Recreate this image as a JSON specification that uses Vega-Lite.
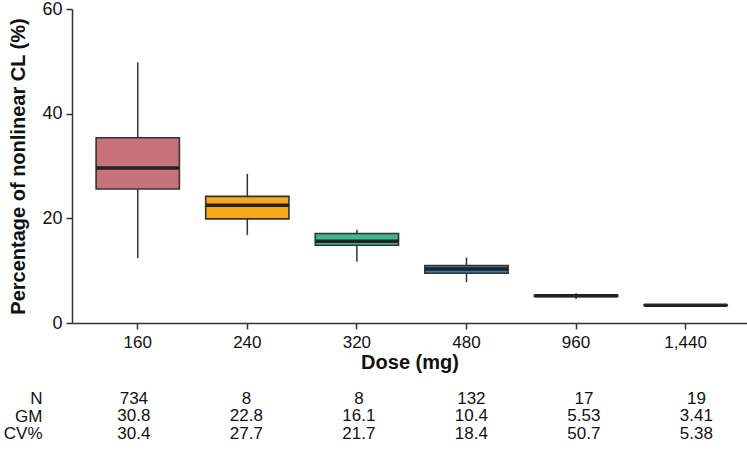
{
  "$schema": "https://vega.github.io/schema/vega-lite/v6.json",
  "padding": {"left": 3, "top": 0, "right": 0, "bottom": 0},
  "background": "white",
  "config": {
    "font": "Liberation Sans",
    "view": {"stroke": null},
    "axis": {"labelColor": "#111", "titleColor": "#111", "domainColor": "#333", "tickColor": "#333", "domainWidth": 1.5, "tickWidth": 1.5, "grid": false}
  },
  "bounds": "flush",
  "spacing": 67,
  "datasets": {
    "box": [
      {"dose": "160", "lo": 12.4, "q1": 25.6, "med": 29.6, "q3": 35.4, "hi": 49.8},
      {"dose": "240", "lo": 16.8, "q1": 19.9, "med": 22.5, "q3": 24.2, "hi": 28.5},
      {"dose": "320", "lo": 11.7, "q1": 14.85, "med": 15.6, "q3": 17.1, "hi": 17.8},
      {"dose": "480", "lo": 7.8, "q1": 9.5, "med": 10.3, "q3": 11.0, "hi": 12.5},
      {"dose": "960", "lo": 4.6, "q1": 5.05, "med": 5.2, "q3": 5.35, "hi": 5.7},
      {"dose": "1,440", "lo": 3.25, "q1": 3.35, "med": 3.4, "q3": 3.45, "hi": 3.55}
    ],
    "table": [
      {"dose": "160", "row": "N", "val": "734"},
      {"dose": "240", "row": "N", "val": "8"},
      {"dose": "320", "row": "N", "val": "8"},
      {"dose": "480", "row": "N", "val": "132"},
      {"dose": "960", "row": "N", "val": "17"},
      {"dose": "1,440", "row": "N", "val": "19"},
      {"dose": "160", "row": "GM", "val": "30.8"},
      {"dose": "240", "row": "GM", "val": "22.8"},
      {"dose": "320", "row": "GM", "val": "16.1"},
      {"dose": "480", "row": "GM", "val": "10.4"},
      {"dose": "960", "row": "GM", "val": "5.53"},
      {"dose": "1,440", "row": "GM", "val": "3.41"},
      {"dose": "160", "row": "CV%", "val": "30.4"},
      {"dose": "240", "row": "CV%", "val": "27.7"},
      {"dose": "320", "row": "CV%", "val": "21.7"},
      {"dose": "480", "row": "CV%", "val": "18.4"},
      {"dose": "960", "row": "CV%", "val": "50.7"},
      {"dose": "1,440", "row": "CV%", "val": "5.38"}
    ]
  },
  "vconcat": [
    {
      "width": 675,
      "height": 314,
      "data": {"name": "box"},
      "encoding": {
        "x": {
          "field": "dose", "type": "nominal",
          "sort": ["160", "240", "320", "480", "960", "1,440"],
          "scale": {"paddingInner": 0.24, "paddingOuter": 0.2, "align": 0.55},
          "axis": {"title": "Dose (mg)", "labelAngle": 0, "labelFontSize": 17, "titleFontSize": 20, "titleFontWeight": "bold", "tickSize": 6, "labelPadding": 5, "titlePadding": 2}
        }
      },
      "layer": [
        {
          "mark": {"type": "rule", "color": "#333", "strokeWidth": 1.5},
          "encoding": {
            "y": {"field": "lo", "type": "quantitative", "scale": {"domain": [0, 60]},
              "axis": {"title": "Percentage of nonlinear CL (%)", "values": [0, 20, 40, 60], "labelFontSize": 18, "titleFontSize": 20, "titleFontWeight": "bold", "tickSize": 6, "labelPadding": 4, "titlePadding": 13}},
            "y2": {"field": "hi"}
          }
        },
        {
          "mark": {"type": "bar", "stroke": "#333", "strokeWidth": 1.6},
          "encoding": {
            "y": {"field": "q1", "type": "quantitative"},
            "y2": {"field": "q3"},
            "color": {
              "field": "dose", "type": "nominal", "legend": null,
              "scale": {"domain": ["160", "240", "320", "480", "960", "1,440"], "range": ["#C8737B", "#F8A71C", "#3CB88C", "#3A7EA6", "#6C4A8E", "#B04A7A"]}
            }
          }
        },
        {
          "mark": {"type": "tick", "color": "#222", "thickness": 3.5, "size": 83, "opacity": 1},
          "encoding": {"y": {"field": "med", "type": "quantitative"}}
        }
      ]
    },
    {
      "width": 675,
      "height": 52.5,
      "data": {"name": "table"},
      "mark": {"type": "text", "fontSize": 17, "color": "#111"},
      "encoding": {
        "x": {
          "field": "dose", "type": "nominal",
          "sort": ["160", "240", "320", "480", "960", "1,440"],
          "scale": {"paddingInner": 0.24, "paddingOuter": 0.2, "align": 0.55},
          "axis": null
        },
        "y": {
          "field": "row", "type": "nominal", "sort": ["N", "GM", "CV%"],
          "scale": {"type": "point", "padding": 0.5},
          "axis": {"title": null, "domain": false, "ticks": false, "tickSize": 0, "labelPadding": 30, "labelAlign": "right", "labelFontSize": 17}
        },
        "text": {"field": "val"}
      }
    }
  ]
}
